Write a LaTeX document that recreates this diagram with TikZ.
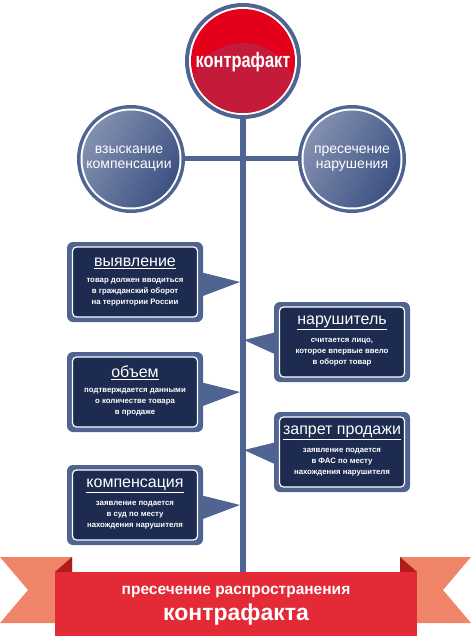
\documentclass[tikz,border=0pt]{standalone}
\usepackage{fontspec}
\usepackage{graphicx}
\setmainfont{Liberation Sans}
\usetikzlibrary{calc}
\definecolor{slate}{HTML}{4F6490}
\definecolor{navy}{HTML}{1C2B4F}
\definecolor{topred}{HTML}{E2001A}
\definecolor{lowred}{HTML}{C41B3B}
\definecolor{bannerred}{HTML}{E42A36}
\definecolor{salmon}{HTML}{F08468}
\definecolor{foldred}{HTML}{B01C1C}
\definecolor{cirlight}{HTML}{8290B0}
\definecolor{cirdark}{HTML}{3D5182}
\pgfdeclarelayer{background}
\pgfsetlayers{background,main}
\tikzset{
  trunkline/.style={line width=6pt, draw=slate},
  hline/.style={line width=5pt, draw=slate},
  ringnode/.style={circle, fill=slate, inner sep=0pt},
  gapnode/.style={circle, fill=white, inner sep=0pt},
  outerbox/.style={fill=slate, rounded corners=6pt, minimum width=136pt, minimum height=80pt, inner sep=0pt},
  innerbox/.style={fill=navy, draw=white, line width=1.2pt, rounded corners=4pt, minimum width=125pt, minimum height=70pt, inner sep=0pt},
  boxtitle/.style={text=white, inner sep=0pt, font=\fontsize{16}{18}\selectfont},
  boxtext/.style={text=white, inner sep=0pt, align=center, font=\bfseries\fontsize{7.8}{11}\selectfont},
  pointer/.style={fill=slate},
  circtext/.style={text=white, align=center, inner sep=0pt, font=\fontsize{14}{15}\selectfont},
}
\begin{document}
\begin{tikzpicture}[x=1pt,y=-1pt]
\useasboundingbox (0,0) rectangle (471,636);
% ---------- top circle ----------
\node[ringnode, minimum size=116pt] (top) at (243,61) {};
\node[gapnode, minimum size=108pt] (topgap) at (top.center) {};
\node[circle, fill=topred, minimum size=104pt, inner sep=0pt] (topin) at (top.center) {};
\begin{scope}
  \clip (243,61) circle (52);
  \fill[lowred] (243,97) circle (54);
\end{scope}
\node[text=white, inner sep=0pt, font=\bfseries\fontsize{21}{22}\selectfont] (toptext) at (243,62) {\scalebox{0.78}[1]{контрафакт}};
% ---------- side circles ----------
\node[ringnode, minimum size=108pt] (lc) at (131,159) {};
\node[gapnode, minimum size=101pt] (lcgap) at (lc.center) {};
\node[circle, inner sep=0pt, minimum size=97pt, left color=cirlight, right color=cirdark, shading angle=60] (lcin) at (lc.center) {};
\node[circtext] (lctext) at (129,159) {взыскание\\компенсации};
\node[ringnode, minimum size=108pt] (rc) at (352,159) {};
\node[gapnode, minimum size=101pt] (rcgap) at (rc.center) {};
\node[circle, inner sep=0pt, minimum size=97pt, left color=cirlight, right color=cirdark, shading angle=60] (rcin) at (rc.center) {};
\node[circtext] (rctext) at (352,159) {пресечение\\нарушения};
% ---------- banner ----------
\fill[salmon] (0,557) -- (72,557) -- (72,623) -- (0,623) -- (28,590) -- cycle;
\fill[salmon] (471,557) -- (400,557) -- (400,623) -- (471,623) -- (443,590) -- cycle;
\fill[foldred] (55,572) -- (72,557) -- (72,572) -- cycle;
\fill[foldred] (417,572) -- (400,557) -- (400,572) -- cycle;
\node[fill=bannerred, minimum width=362pt, minimum height=64pt, inner sep=0pt] (banner) at (236,604) {};
\node[text=white, inner sep=0pt, font=\bfseries\fontsize{15.5}{17}\selectfont] (bt1) at (236,592) {пресечение распространения};
\node[text=white, inner sep=0pt, font=\bfseries\fontsize{23}{24}\selectfont] (bt2) at (236,615) {контрафакта};
% ---------- trunk coordinates ----------
\coordinate (t1) at (240,282);
\coordinate (t2) at (244,340);
\coordinate (t3) at (240,392);
\coordinate (t4) at (244,450);
\coordinate (t5) at (240,505);
% ---------- boxes ----------
\node[outerbox] (b1) at (135,282) {};
\node[outerbox] (b2) at (342,342) {};
\node[outerbox] (b3) at (135,392) {};
\node[outerbox] (b4) at (342,452) {};
\node[outerbox] (b5) at (135,505) {};
\fill[pointer] ($(b1.east)+(-3,-10)$) -- (t1) -- ($(b1.east)+(-3,15)$) -- cycle;
\fill[pointer] ($(b2.west)+(3,-10)$) -- (t2) -- ($(b2.west)+(3,13)$) -- cycle;
\fill[pointer] ($(b3.east)+(-3,-10)$) -- (t3) -- ($(b3.east)+(-3,15)$) -- cycle;
\fill[pointer] ($(b4.west)+(3,-10)$) -- (t4) -- ($(b4.west)+(3,13)$) -- cycle;
\fill[pointer] ($(b5.east)+(-3,-10)$) -- (t5) -- ($(b5.east)+(-3,15)$) -- cycle;
\node[innerbox] (b1i) at (b1.center) {};
\node[innerbox] (b2i) at (b2.center) {};
\node[innerbox] (b3i) at (b3.center) {};
\node[innerbox] (b4i) at (b4.center) {};
\node[innerbox] (b5i) at (b5.center) {};
\node[boxtitle] (b1t) at (135,263) {\underline{выявление}};
\node[boxtext] (b1x) at (135,292) {товар должен вводиться\\в гражданский оборот\\на территории России};
\node[boxtitle] (b2t) at (342,323) {\underline{нарушитель}};
\node[boxtext] (b2x) at (342,352) {считается лицо,\\которое впервые ввело\\в оборот товар};
\node[boxtitle] (b3t) at (135,373) {\underline{объем}};
\node[boxtext] (b3x) at (135,402) {подтверждается данными\\о количестве товара\\в продаже};
\node[boxtitle] (b4t) at (342,433) {\underline{запрет продажи}};
\node[boxtext] (b4x) at (342,462) {заявление подается\\в ФАС по месту\\нахождения нарушителя};
\node[boxtitle] (b5t) at (135,486) {\underline{компенсация}};
\node[boxtext] (b5x) at (135,515) {заявление подается\\в суд по месту\\нахождения нарушителя};
% ---------- connectors on background ----------
\begin{pgfonlayer}{background}
  \coordinate (trunkend) at (242,575);
  \draw[trunkline] (top.center) -- (top.center |- trunkend);
  \draw[hline] (lc.center) -- (rc.center);
\end{pgfonlayer}
\end{tikzpicture}
\end{document}
